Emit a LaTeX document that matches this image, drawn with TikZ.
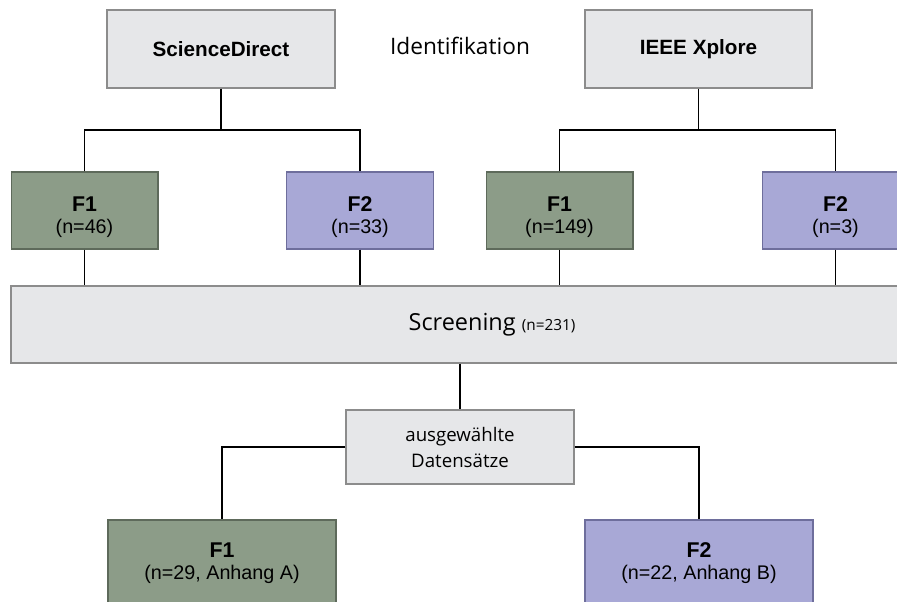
\documentclass[tikz,border=0pt]{standalone}
\usepackage{fontspec}
\setmainfont{Liberation Sans}
\newfontfamily\labelfont{Open Sans}
\definecolor{boxgray}{HTML}{E6E7E9}
\definecolor{boxgrayline}{HTML}{8C8C8C}
\definecolor{fonegreen}{HTML}{8C9C88}
\definecolor{fonegreenline}{HTML}{5E6A5B}
\definecolor{ftwoblue}{HTML}{A8A8D6}
\definecolor{ftwoblueline}{HTML}{6E6E9C}
\tikzset{
  srcbox/.style={draw=boxgrayline,fill=boxgray,line width=1.1pt,minimum width=171pt,minimum height=58.5pt,font=\fontsize{15.5}{18}\selectfont\bfseries},
  fonebox/.style={draw=fonegreenline,fill=fonegreen,line width=1pt,minimum width=110pt,minimum height=57.75pt,align=center,font=\fontsize{14.8}{16.5}\selectfont},
  ftwobox/.style={fonebox,draw=ftwoblueline,fill=ftwoblue},
  link/.style={draw=black,line width=0.9pt}
}
\newcommand{\fhead}[3][-6pt]{\raisebox{#1}[\height][\depth]{\begin{tabular}{@{}c@{}}{\fontsize{16}{16.5}\selectfont\bfseries #2}\\#3\end{tabular}}}
\begin{document}
\begin{tikzpicture}[x=0.75pt,y=-0.75pt]
  \useasboundingbox (0,0) rectangle (897,601);

  % Identifikation
  \node[srcbox] (sd)   at (221,49)   {ScienceDirect};
  \node[srcbox,minimum width=170.25pt] (ieee) at (698.5,49) {IEEE Xplore};
  \node[font=\labelfont\fontsize{17}{20}\selectfont] (ident) at (460,46) {Identifikation};

  \node[fonebox] (sdf1)   at (84.5,210.5)  {\fhead{F1}{(n=46)}};
  \node[ftwobox] (sdf2)   at (360,210.5)   {\fhead{F2}{(n=33)}};
  \node[fonebox] (ieeef1) at (559.5,210.5) {\fhead{F1}{(n=149)}};
  \node[ftwobox] (ieeef2) at (835.5,210.5) {\fhead{F2}{(n=3)}};

  \coordinate (sdbus)   at (221,130);
  \coordinate (ieeebus) at (698.5,130);

  % Screening
  \node[draw=boxgrayline,fill=boxgray,line width=1.1pt,minimum width=721.5pt,minimum height=57.75pt,
        font=\labelfont\fontsize{17.6}{20}\selectfont] (screen) at (492,324.5)
        {Screening {\fontsize{11.5}{14}\selectfont(n=231)}};

  \node[draw=boxgrayline,fill=boxgray,line width=1.1pt,minimum width=171pt,minimum height=55.5pt,align=center,
        font=\labelfont\fontsize{14}{19.5}\selectfont] (ausw) at (460,447) {ausgewählte\\Datensätze};

  \node[fonebox,minimum width=171pt,minimum height=67.5pt] (resf1) at (222,565) {\fhead[1pt]{F1}{(n=29, Anhang A)}};
  \node[ftwobox,minimum width=171pt,minimum height=67.5pt] (resf2) at (699,565) {\fhead[1pt]{F2}{(n=22, Anhang B)}};

  % connectors
  \draw[link] (sd.south) -- (sdbus);
  \draw[link] (sdf1.north) |- (sdbus) -| (sdf2.north);
  \draw[link] (ieee.south) -- (ieeebus);
  \draw[link] (ieeef1.north) |- (ieeebus) -| (ieeef2.north);

  \draw[link] (sdf1.south)   -- (sdf1.south |- screen.north);
  \draw[link] (sdf2.south)   -- (sdf2.south |- screen.north);
  \draw[link] (ieeef1.south) -- (ieeef1.south |- screen.north);
  \draw[link] (ieeef2.south) -- (ieeef2.south |- screen.north);

  \draw[link] (ausw.north |- screen.south) -- (ausw.north);
  \draw[link] (ausw.west) -| (resf1.north);
  \draw[link] (ausw.east) -| (resf2.north);
\end{tikzpicture}
\end{document}
